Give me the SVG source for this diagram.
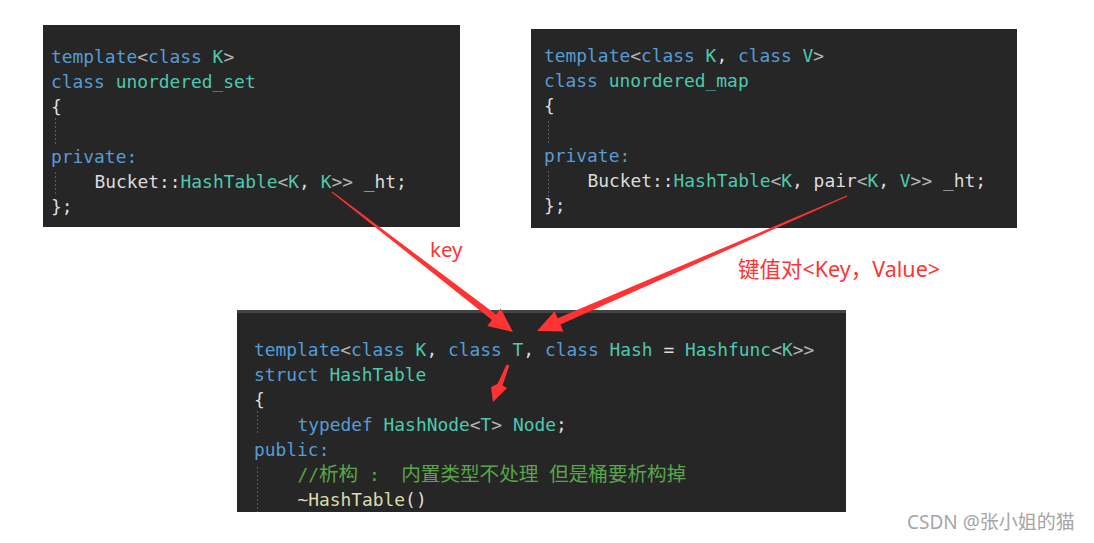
<svg xmlns="http://www.w3.org/2000/svg" width="1094" height="543" viewBox="0 0 1094 543">
<style>
.bg{fill:#262626}
.code{font-family:"DejaVu Sans Mono","Liberation Mono","Noto Sans CJK SC",monospace;font-size:17.9px;fill:#dcdcdc;white-space:pre}
.cjk{font-family:"Noto Sans CJK SC",sans-serif;font-size:19.6px}
.k{fill:#569cd6}
.t{fill:#4ec9b0}
.p{fill:#b4b4b4}
.c{fill:#57a64a}
.f{fill:#dcdcaa}
.guide{stroke:#5a5a5a;stroke-width:1;stroke-dasharray:2 2;fill:none}
.arrow{fill:#f33}
.lbl{font-family:"Noto Sans","Noto Sans CJK SC",sans-serif;font-size:20.5px;fill:#f33;white-space:pre}
.wm{font-family:"Noto Sans","Noto Sans CJK SC",sans-serif;font-size:19px;fill:#a6a6a6}
</style>
<rect width="1094" height="543" fill="#ffffff"/>
<g id="unordered_set">
<rect class="bg" x="43" y="25" width="417" height="202"/>
<line class="guide" x1="55.5" y1="118" x2="55.5" y2="145"/>
<line class="guide" x1="55.5" y1="172" x2="55.5" y2="196"/>
<text class="code" x="51" y="62.5"><tspan class="k">template</tspan><tspan class="p">&lt;</tspan><tspan class="k">class</tspan> <tspan class="t">K</tspan><tspan class="p">&gt;</tspan></text>
<text class="code" x="51" y="87.5"><tspan class="k">class</tspan> <tspan class="t">unordered_set</tspan></text>
<text class="code" x="51" y="112.5">{</text>
<text class="code" x="51" y="162.5"><tspan class="k">private:</tspan></text>
<text class="code" x="94.4" y="187.5">Bucket::<tspan class="t">HashTable</tspan><tspan class="p">&lt;</tspan><tspan class="t">K</tspan>, <tspan class="t">K</tspan><tspan class="p">&gt;&gt;</tspan> _ht;</text>
<text class="code" x="51" y="212.5">};</text>
</g>
<g id="unordered_map">
<rect class="bg" x="531" y="29" width="486" height="199"/>
<line class="guide" x1="548.5" y1="121" x2="548.5" y2="144"/>
<line class="guide" x1="548.5" y1="171" x2="548.5" y2="198"/>
<text class="code" x="544" y="61.5"><tspan class="k">template</tspan><tspan class="p">&lt;</tspan><tspan class="k">class</tspan> <tspan class="t">K</tspan>, <tspan class="k">class</tspan> <tspan class="t">V</tspan><tspan class="p">&gt;</tspan></text>
<text class="code" x="544" y="86.5"><tspan class="k">class</tspan> <tspan class="t">unordered_map</tspan></text>
<text class="code" x="544" y="111.5">{</text>
<text class="code" x="544" y="161.5"><tspan class="k">private:</tspan></text>
<text class="code" x="587.4" y="186.5">Bucket::<tspan class="t">HashTable</tspan><tspan class="p">&lt;</tspan><tspan class="t">K</tspan>, pair<tspan class="p">&lt;</tspan><tspan class="t">K</tspan>, <tspan class="t">V</tspan><tspan class="p">&gt;&gt;</tspan> _ht;</text>
<text class="code" x="544" y="211.5">};</text>
</g>
<g id="HashTable">
<rect class="bg" x="237" y="310" width="609" height="202"/>
<rect x="237" y="310" width="609" height="3" fill="#444444"/>
<line class="guide" x1="257.5" y1="411" x2="257.5" y2="435"/>
<line class="guide" x1="257.5" y1="467" x2="257.5" y2="512"/>
<text class="code" x="254" y="356"><tspan class="k">template</tspan><tspan class="p">&lt;</tspan><tspan class="k">class</tspan> <tspan class="t">K</tspan>, <tspan class="k">class</tspan> <tspan class="t">T</tspan>, <tspan class="k">class</tspan> <tspan class="t">Hash</tspan> = <tspan class="t">Hashfunc</tspan><tspan class="p">&lt;</tspan><tspan class="t">K</tspan><tspan class="p">&gt;&gt;</tspan></text>
<text class="code" x="254" y="381"><tspan class="k">struct</tspan> <tspan class="t">HashTable</tspan></text>
<text class="code" x="254" y="406">{</text>
<text class="code" x="297.4" y="431"><tspan class="k">typedef</tspan> <tspan class="t">HashNode</tspan><tspan class="p">&lt;</tspan><tspan class="t">T</tspan><tspan class="p">&gt;</tspan> <tspan class="t">Node</tspan>;</text>
<text class="code" x="254" y="456"><tspan class="k">public:</tspan></text>
<text class="code c" x="297.4" y="481">//<tspan class="cjk">析构</tspan> :  <tspan class="cjk">内置类型不处理</tspan> <tspan class="cjk">但是桶要析构掉</tspan></text>
<text class="code" x="297.4" y="506"><tspan class="f">~HashTable</tspan>()</text>
</g>
<g id="connectors">
<polygon class="arrow" points="331.7,192.4 491.9,320.1 487.3,326 513,332 500.7,308.6 496.1,314.5 332.3,191.6"/>
<polygon class="arrow" points="846.8,195.5 557.6,318.2 554.6,311.3 537,331 563.4,331.5 560.4,324.6 847.2,196.5"/>
<polygon class="arrow" points="506.6,364.4 497.5,384 491,387 493,402 507,388 502.5,385.5 509.4,365.6"/>
</g>
<g id="label-key">
<text class="lbl" x="430" y="257">key</text>
</g>
<g id="label-kv">
<text class="lbl" x="738" y="277" style="font-size:21.5px">键值对&lt;Key，Value&gt;</text>
</g>
<g id="watermark">
<text class="wm" x="907" y="529">CSDN @张小姐的猫</text>
</g>
</svg>
